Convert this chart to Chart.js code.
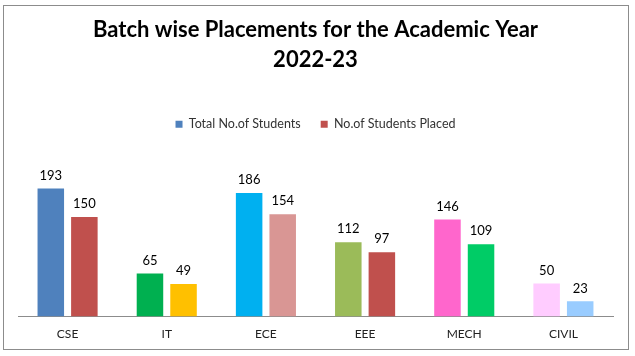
<!DOCTYPE html>
<html><head><meta charset="utf-8">
<script src="https://cdn.jsdelivr.net/npm/chart.js@4"></script>
<style>
html,body{margin:0;padding:0;background:#fff;}
#wrap{position:relative;width:635px;height:356px;}
#frame{position:absolute;left:3px;top:5px;width:624px;height:343px;border:1px solid #8c8c8c;pointer-events:none;}
</style></head>
<body>
<div id="wrap"><canvas id="c" width="635" height="356"></canvas><div id="frame"></div></div>
<script>
const categories = ["CSE","IT","ECE","EEE","MECH","CIVIL"];
const totalStudents = [193,65,186,112,146,50];
const studentsPlaced = [150,49,154,97,109,23];
const totalColors = ["#4F81BD","#00B050","#00B0F0","#9BBB59","#FF66CC","#FFCCFF"];
const placedColors = ["#C0504D","#FFC000","#D99694","#C0504D","#00CC66","#99CCFF"];
const seriesNames = ["Total No.of Students","No.of Students Placed"];
const titleLines = ["Batch wise Placements for the Academic Year","2022-23"];

const FONT = "Lato, 'Open Sans', sans-serif";

const labelPlugin = {
  id:'barLabels',
  afterDatasetsDraw(chart){
    const ctx = chart.ctx;
    ctx.save();
    ctx.font = "13px " + FONT;
    ctx.fillStyle = "#000";
    ctx.textAlign = "center";
    ctx.textBaseline = "middle";
    chart.data.datasets.forEach((ds,i)=>{
      const meta = chart.getDatasetMeta(i);
      meta.data.forEach((el,j)=>{
        ctx.fillText(String(ds.data[j]), el.x, el.y - 13);
      });
    });
    ctx.restore();
  }
};

const legendPad = {
  id:'legendPad',
  beforeInit(chart){
    const orig = chart.legend.fit;
    chart.legend.fit = function(){ orig.call(this); this.height += 10; };
  }
};

new Chart(document.getElementById('c'), {
  type:'bar',
  data:{
    labels:categories,
    datasets:[
      {label:seriesNames[0], data:totalStudents, backgroundColor:totalColors, categoryPercentage:0.677, barPercentage:0.79},
      {label:seriesNames[1], data:studentsPlaced, backgroundColor:placedColors, categoryPercentage:0.677, barPercentage:0.79}
    ]
  },
  options:{
    responsive:false,
    animation:false,
    layout:{padding:{left:18,right:22,top:0,bottom:13}},
    plugins:{
      title:{display:true,text:titleLines,color:"#000",font:{family:FONT,size:22,weight:'bold',lineHeight:1.364},padding:{top:15,bottom:23}},
      legend:{display:true,position:'top',labels:{
        generateLabels(chart){
          return seriesNames.map((n,i)=>({text:n,fillStyle:i===0?totalColors[0]:placedColors[0],strokeStyle:'transparent',lineWidth:0,datasetIndex:i,fontColor:'#333'}));
        },
        boxWidth:7,boxHeight:7,color:"#333",font:{family:FONT,size:12.5},padding:20}},
      tooltip:{enabled:false}
    },
    scales:{
      x:{grid:{display:false},border:{display:true,color:"#8c8c8c"},ticks:{color:"#222",font:{family:FONT,size:12},padding:2}},
      y:{display:false,min:0,max:250}
    }
  },
  plugins:[labelPlugin,legendPad]
});
</script>
</body></html>
